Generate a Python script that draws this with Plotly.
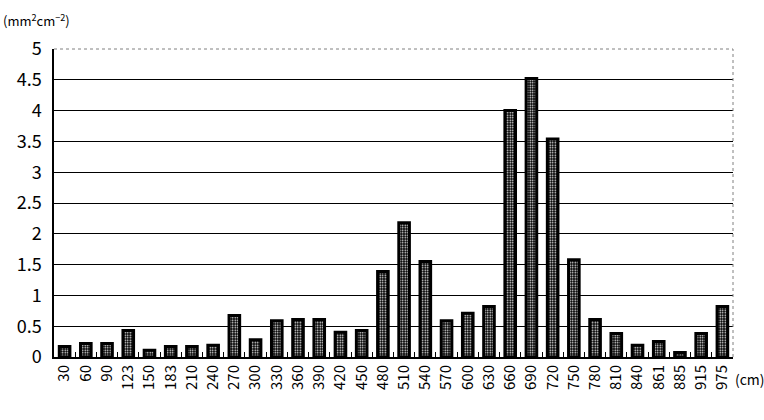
import plotly.graph_objects as go

depths = ["30", "60", "90", "123", "150", "183", "210", "240", "270", "300",
          "330", "360", "390", "420", "450", "480", "510", "540", "570", "600",
          "630", "660", "690", "720", "750", "780", "810", "840", "861", "885",
          "915", "975"]
values = [0.17, 0.22, 0.22, 0.43, 0.11, 0.17, 0.17, 0.19, 0.675, 0.28,
          0.59, 0.61, 0.61, 0.40, 0.43, 1.39, 2.18, 1.55, 0.59, 0.71,
          0.82, 4.00, 4.52, 3.54, 1.58, 0.61, 0.38, 0.19, 0.25, 0.075,
          0.38, 0.82]
y_ticks = [0, 0.5, 1, 1.5, 2, 2.5, 3, 3.5, 4, 4.5, 5]
y_labels = ["0", "0.5", "1", "1.5", "2", "2.5", "3", "3.5", "4", "4.5", "5"]

FONT = "Noto Sans CJK JP, DejaVu Sans, sans-serif"

fig = go.Figure(go.Bar(
    x=depths, y=values,
    marker=dict(
        color="black",
        line=dict(color="black", width=3),
        pattern=dict(shape=".", fgcolor="white", bgcolor="black",
                     size=2.5, solidity=0.3, fillmode="replace"),
    ),
    width=0.5,
))

fig.update_layout(
    width=764, height=420,
    margin=dict(l=54, r=31, t=49, b=63),
    paper_bgcolor="white", plot_bgcolor="white",
    showlegend=False,
    font=dict(family=FONT, color="black"),
    xaxis=dict(
        type="category", tickangle=-90,
        tickfont=dict(size=15, family=FONT),
        showline=True, linecolor="black", linewidth=2,
        ticks="inside", tickson="boundaries", ticklen=5, tickcolor="black",
        tickwidth=1, showgrid=False, automargin=False,
    ),
    yaxis=dict(
        range=[0, 5], tickvals=y_ticks, ticktext=y_labels,
        tickfont=dict(size=18, family=FONT),
        showgrid=True, gridcolor="black", gridwidth=1,
        showline=True, linecolor="black", linewidth=1.5,
        ticks="", zeroline=False, ticklabelstandoff=7, automargin=False,
    ),
    shapes=[
        dict(type="line", xref="paper", yref="paper", x0=0, x1=1, y0=1, y1=1,
             line=dict(color="white", width=2), layer="above"),
        dict(type="line", xref="paper", yref="paper", x0=0, x1=1, y0=1, y1=1,
             line=dict(color="#808080", width=1, dash="dot"), layer="above"),
        dict(type="line", xref="paper", yref="paper", x0=1, x1=1, y0=0, y1=1,
             line=dict(color="#808080", width=1, dash="dot"), layer="above"),
    ],
    annotations=[
        dict(text="(mm<sup>2</sup>cm<sup>\u22122</sup>)", xref="paper", yref="paper",
             x=0, y=1, xanchor="left", yanchor="bottom", xshift=-53, yshift=17,
             showarrow=False, font=dict(size=13, family=FONT)),
        dict(text="(cm)", xref="paper", yref="paper", x=1, y=0,
             xanchor="left", yanchor="middle", xshift=0, yshift=-22,
             showarrow=False, font=dict(size=14, family=FONT)),
    ],
)

fig.write_html("out.html",
               config={"displayModeBar": False},
               post_script="document.body.style.margin='0';")
